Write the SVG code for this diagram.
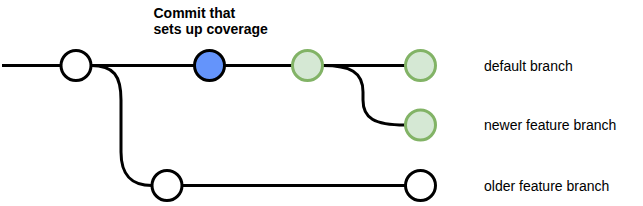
<svg xmlns="http://www.w3.org/2000/svg" width="643" height="206" viewBox="0 0 643 206">
<style>
.ln{fill:none;stroke:#000;stroke-width:3}
.c{stroke-width:3}
.w{fill:#fff;stroke:#000}
.b{fill:#6494fb;stroke:#000}
.g{fill:#d5e8d4;stroke:#82b366}
.t{font-family:"Liberation Sans",Arial,sans-serif;font-size:14px;fill:#000}
.bold{font-weight:bold}
</style>
<rect width="643" height="206" fill="#fff"/>
<g id="connectors">
<path class="ln" d="M2 65.5 H61"/>
<path class="ln" d="M91 65.5 H194"/>
<path class="ln" d="M225 65.5 H292"/>
<path class="ln" d="M323 65.5 H405"/>
<path class="ln" d="M91 65.5 C114 65.5 121 76 121 100 L121 152 C121 176 132 185.5 152 185.5"/>
<path class="ln" d="M182 185.5 H405"/>
<path class="ln" d="M323 65.5 C350 65.5 363 72 363 92 L363 100 C363 118 374 125 405 125"/>
</g>
<g id="n1"><circle class="c w" cx="76" cy="65.5" r="15"/></g>
<g id="n2"><circle class="c b" cx="209.5" cy="65.5" r="15"/></g>
<g id="n3"><circle class="c g" cx="307.5" cy="65.5" r="15"/></g>
<g id="n4"><circle class="c g" cx="420.5" cy="65.5" r="15"/></g>
<g id="n5"><circle class="c g" cx="420.5" cy="125" r="15"/></g>
<g id="n6"><circle class="c w" cx="167" cy="185.5" r="15"/></g>
<g id="n7"><circle class="c w" cx="420.5" cy="185.5" r="15"/></g>
<g id="labels">
<text class="t bold" x="153.5" y="17.5">Commit that</text>
<text class="t bold" x="153.5" y="33.5">sets up coverage</text>
<text class="t" x="484" y="70.5">default branch</text>
<text class="t" x="484" y="130">newer feature branch</text>
<text class="t" x="484" y="190.5">older feature branch</text>
</g>
</svg>
